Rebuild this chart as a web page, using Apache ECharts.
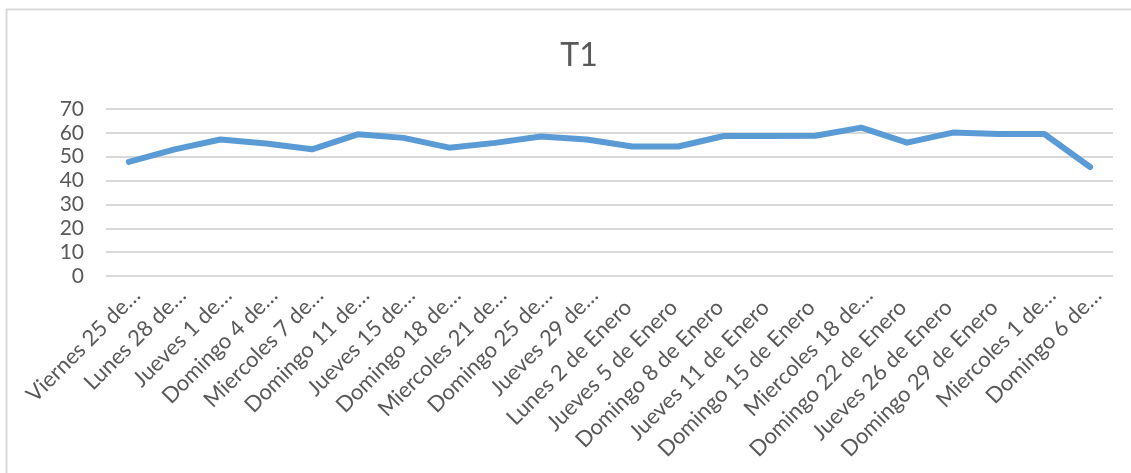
<!DOCTYPE html>
<html>
<head>
<meta charset="utf-8">
<script src="https://cdn.jsdelivr.net/npm/echarts@6/dist/echarts.min.js"></script>
<style>
html, body { margin: 0; padding: 0; background: #fff; }
#chart { width: 1131px; height: 473px; }
</style>
</head>
<body>
<div id="chart"></div>
<script>
const title = 'T1'
const categories = [
    'Viernes 25 de…', 'Lunes 28 de…', 'Jueves 1 de…', 'Domingo 4 de…',
    'Miercoles 7 de…', 'Domingo 11 de…', 'Jueves 15 de…', 'Domingo 18 de…',
    'Miercoles 21 de…', 'Domingo 25 de…', 'Jueves 29 de…', 'Lunes 2 de Enero',
    'Jueves 5 de Enero', 'Domingo 8 de Enero', 'Jueves 11 de Enero', 'Domingo 15 de Enero',
    'Miercoles 18 de…', 'Domingo 22 de Enero', 'Jueves 26 de Enero', 'Domingo 29 de Enero',
    'Miercoles 1 de…', 'Domingo 6 de…'
]
const t1Values = [
    47.8, 53.1, 57.2, 55.5, 53.1, 59.4, 57.9, 53.8, 55.8, 58.5, 57.2,
    54.3, 54.3, 58.7, 58.7, 58.8, 62.2, 55.9, 60.1, 59.5, 59.5, 45.7
]
const yMin = 0
const yMax = 70
const yStep = 10

const font = 'Lato, "Open Sans", sans-serif'

function init() {
    const option = {
        backgroundColor: '#fff',
        animation: false,
        title: {
            text: title,
            left: 574,
            textAlign: 'center',
            top: 35,
            textStyle: { fontFamily: font, fontSize: 32, fontWeight: 'normal', color: '#595959' }
        },
        graphic: [{
            type: 'rect',
            shape: { x: 6.5, y: 9.5, width: 1140, height: 480 },
            style: { fill: 'none', stroke: '#d9d9d9', lineWidth: 2 },
            silent: true
        }],
        grid: {
            left: 106,
            right: 18,
            top: 109,
            bottom: 197
        },
        xAxis: {
            type: 'category',
            data: categories,
            boundaryGap: true,
            axisLine: { show: false },
            axisTick: { show: false },
            axisLabel: {
                interval: 0,
                rotate: 45,
                margin: 8,
                verticalAlign: 'top',
                color: '#595959',
                fontFamily: font,
                fontSize: 22,
                // excel puts the cut labels a bit further out than the full ones,
                // so pad the full ones with an empty token at the end
                formatter: function (value) {
                    return value.endsWith('…') ? value : value + '{s|}'
                },
                rich: {
                    s: { width: 17 }
                }
            }
        },
        yAxis: {
            type: 'value',
            min: yMin,
            max: yMax,
            interval: yStep,
            axisLine: { show: false },
            axisTick: { show: false },
            axisLabel: { margin: 22, color: '#595959', fontFamily: font, fontSize: 21 },
            splitLine: { lineStyle: { color: '#d9d9d9', width: 2 } }
        },
        series: [{
            name: title,
            type: 'line',
            data: t1Values,
            symbol: 'none',
            lineStyle: { color: '#5b9bd5', width: 6, cap: 'round', join: 'round' }
        }]
    }
    const mychart = echarts.init(document.getElementById('chart'))
    mychart.setOption(option)
    window.addEventListener('resize', function () {
        mychart.resize()
    })
}
init()
</script>
</body>
</html>
